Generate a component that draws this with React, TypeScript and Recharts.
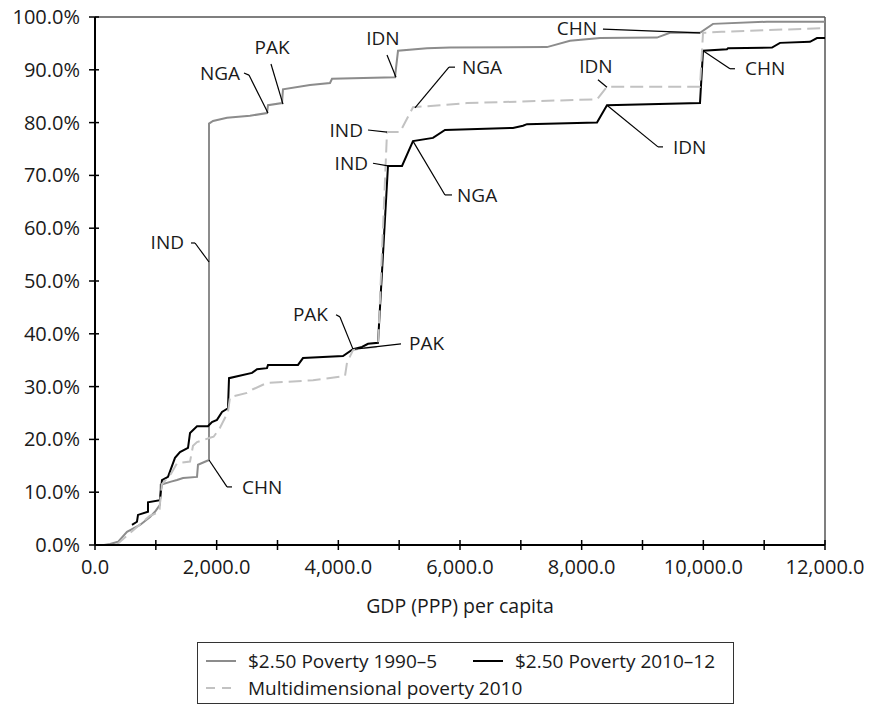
import { LineChart, Line, XAxis, YAxis, ReferenceLine, ReferenceDot } from "recharts";

// GDP (PPP) per capita vs cumulative share of poor people
const gdp1990 = [150, 247, 378, 526, 740, 904, 986, 1068, 1080, 1250, 1348, 1447, 1677, 1693, 1874, 1874, 1940, 2170, 2548, 2827, 2844, 3074, 3090, 3534, 3863, 3896, 4931, 4981, 5457, 5836, 7430, 7808, 8301, 9238, 9452, 9945, 10159, 11046, 12000];
const share1990 = [0, 0.2, 0.6, 2.5, 3.8, 5.3, 6.3, 7.6, 11.4, 12.0, 12.3, 12.7, 12.9, 15.2, 16.1, 79.8, 80.3, 80.9, 81.3, 81.8, 83.3, 83.7, 86.3, 87.1, 87.5, 88.3, 88.6, 93.6, 94.1, 94.2, 94.3, 95.5, 96.0, 96.1, 97.0, 97.0, 98.7, 99.1, 99.1];

const gdp2010 = [608, 690, 707, 871, 871, 1068, 1101, 1200, 1315, 1397, 1529, 1562, 1677, 1857, 1923, 2005, 2088, 2186, 2203, 2581, 2663, 2827, 2844, 3337, 3419, 4077, 4241, 4389, 4488, 4652, 4816, 5047, 5227, 5556, 5753, 6871, 7035, 7101, 8252, 8416, 9945, 9995, 10389, 10406, 11129, 11260, 11753, 11868, 12000];
const share2010 = [3.8, 4.4, 5.7, 6.3, 8.1, 8.5, 12.3, 12.9, 16.5, 17.6, 18.4, 21.2, 22.5, 22.5, 23.3, 23.7, 25.2, 25.9, 31.6, 32.6, 33.3, 33.5, 34.1, 34.1, 35.4, 35.8, 37.1, 37.5, 38.1, 38.3, 71.8, 71.8, 76.5, 77.1, 78.6, 79.0, 79.4, 79.7, 80.0, 83.3, 83.7, 93.6, 93.9, 94.1, 94.2, 95.1, 95.3, 96.0, 96.0];

const gdpMpi = [350, 500, 700, 900, 1060, 1068, 1100, 1250, 1348, 1562, 1611, 1677, 1890, 1950, 2055, 2186, 2219, 2499, 2597, 2827, 3584, 4110, 4142, 4241, 4405, 4652, 4800, 5014, 5227, 5671, 6115, 8252, 8416, 9945, 9995, 10300, 12000];
const shareMpi = [0, 1.5, 3.5, 5.5, 6.3, 8.0, 11.5, 13.5, 15.5, 15.8, 18.8, 19.5, 20.3, 20.5, 22.2, 25.2, 28.0, 28.8, 29.5, 30.7, 31.2, 32.0, 34.5, 36.9, 37.3, 37.5, 78.2, 78.2, 82.9, 83.3, 83.7, 84.4, 86.8, 86.8, 97.0, 97.2, 97.9];

const xTicks = [0, 1000, 2000, 3000, 4000, 5000, 6000, 7000, 8000, 9000, 10000, 11000, 12000];
const yTicks = [0, 10, 20, 30, 40, 50, 60, 70, 80, 90, 100];

// country call-outs: text position (data units) and leader line points
const calloutText = ["NGA", "PAK", "IDN", "NGA", "IND", "IND", "NGA", "CHN", "IDN", "IDN", "CHN", "IND", "CHN", "PAK", "PAK"];
const calloutX = [2384, 2910, 4734, 6033, 4405, 4488, 5951, 8252, 8235, 9501, 10685, 1463, 2416, 3830, 5162];
const calloutY = [89.4, 94.2, 95.9, 90.5, 78.6, 72.3, 66.3, 97.9, 90.6, 75.4, 90.2, 57.4, 11.0, 43.6, 38.1];
const calloutAnchor = ["end", "middle", "middle", "start", "end", "end", "start", "end", "middle", "start", "start", "end", "start", "end", "start"];
const calloutLeaders: number[][][] = [
  [[2449, 89.4], [2531, 89.0], [2844, 81.8]],
  [[2893, 91.1], [3090, 83.5]],
  [[4800, 92.8], [4948, 88.6]],
  [[5918, 90.5], [5819, 90.5], [5260, 82.8]],
  [[4488, 78.6], [4800, 78.2]],
  [[4570, 72.3], [4816, 71.8]],
  [[5868, 66.3], [5753, 66.3], [5227, 76.5]],
  [[8350, 97.7], [9945, 97.0]],
  [[8268, 88.1], [8416, 86.7]],
  [[9337, 75.4], [9255, 75.4], [8416, 83.3]],
  [[10520, 90.2], [10438, 90.2], [9995, 93.6]],
  [[1578, 57.2], [1644, 57.2], [1874, 53.6]],
  [[2252, 11.0], [2170, 11.0], [1874, 16.1]],
  [[3962, 43.6], [4027, 43.2], [4241, 37.1]],
  [[5030, 38.1], [4274, 37.1]],
];

const zip = (xs: number[], ys: number[]) => xs.map((x, i) => ({ x, y: ys[i] }));

const FONT = "'Open Sans', sans-serif";
const TEXT = "#1a1a1a";

const fmtX = (v: number) =>
  v.toLocaleString("en-US", { minimumFractionDigits: 1, maximumFractionDigits: 1 });

const XTick = ({ x, y, payload }: any) => {
  const major = payload.value % 2000 === 0;
  return (
    <g>
      <line x1={x} x2={x} y1={y - 5} y2={y + 5} stroke="#000" strokeWidth={1.5} />
      {major && (
        <text x={x} y={y + 29} textAnchor="middle" fontSize={20} fill={TEXT} fontFamily={FONT}>
          {fmtX(payload.value)}
        </text>
      )}
    </g>
  );
};

const YTick = ({ x, y, payload }: any) => (
  <g>
    <line x1={x - 6} x2={x + 4} y1={y} y2={y} stroke="#000" strokeWidth={1.5} />
    <text x={x - 15} y={y} dy="0.35em" textAnchor="end" fontSize={20} fill={TEXT} fontFamily={FONT}>
      {payload.value.toFixed(1)}%
    </text>
  </g>
);

const LegendSwatch = ({ color, dashed }: { color: string; dashed?: boolean }) => (
  <svg width={30} height={10} style={{ marginRight: 12 }}>
    <line x1={0} x2={30} y1={5} y2={5} stroke={color} strokeWidth={2} strokeDasharray={dashed ? "9 7" : undefined} />
  </svg>
);

export default function App() {
  return (
    <div style={{ position: "relative", width: 872, height: 714, margin: -8, fontFamily: FONT }}>
      <LineChart width={872} height={640} margin={{ top: 17, right: 47, left: 0, bottom: 20 }}>
        <XAxis
          type="number"
          dataKey="x"
          domain={[0, 12000]}
          ticks={xTicks}
          interval={0}
          tick={<XTick />}
          tickSize={0}
          tickMargin={0}
          tickLine={false}
          axisLine={{ stroke: "#000", strokeWidth: 2 }}
          height={75}
          label={{ value: "GDP (PPP) per capita", position: "insideBottom", offset: 7, fontSize: 19.5, fill: TEXT, fontFamily: FONT }}
        />
        <YAxis
          type="number"
          domain={[0, 100]}
          ticks={yTicks}
          interval={0}
          tick={<YTick />}
          tickSize={0}
          tickMargin={0}
          tickLine={false}
          axisLine={{ stroke: "#000", strokeWidth: 2 }}
          width={95}
        />
        <ReferenceLine y={100} stroke="#555" strokeWidth={1.5} />
        <ReferenceLine x={12000} stroke="#555" strokeWidth={1.5} />

        <Line data={zip(gdp1990, share1990)} dataKey="y" type="linear" stroke="#8c8c8c" strokeWidth={2} dot={false} isAnimationActive={false} />
        <Line data={zip(gdp2010, share2010)} dataKey="y" type="linear" stroke="#000" strokeWidth={2} dot={false} isAnimationActive={false} />
        <Line data={zip(gdpMpi, shareMpi)} dataKey="y" type="linear" stroke="#c2c2c2" strokeWidth={2} strokeDasharray="13 6" dot={false} isAnimationActive={false} />

        {calloutLeaders.map((pts, i) =>
          pts.slice(1).map((p, j) => (
            <ReferenceLine
              key={`l${i}-${j}`}
              segment={[{ x: pts[j][0], y: pts[j][1] }, { x: p[0], y: p[1] }]}
              stroke="#000"
              strokeWidth={1.2}
            />
          ))
        )}
        {calloutText.map((t, i) => (
          <ReferenceDot
            key={`t${i}`}
            x={calloutX[i]}
            y={calloutY[i]}
            r={0}
            fill="none"
            stroke="none"
            label={{
              content: ({ viewBox }: any) => (
                <text
                  x={viewBox.x}
                  y={viewBox.y}
                  dy="0.35em"
                  textAnchor={calloutAnchor[i] as any}
                  fontSize={19}
                  fill={TEXT}
                  fontFamily={FONT}
                >
                  {t}
                </text>
              ),
            }}
          />
        ))}
      </LineChart>

      <div
        style={{
          position: "absolute",
          left: 197,
          top: 642,
          width: 535,
          height: 60,
          border: "1px solid #333",
          fontSize: 19,
          lineHeight: "24px",
          color: TEXT,
        }}
      >
        <div style={{ position: "absolute", left: 8, top: 6, display: "flex", alignItems: "center", whiteSpace: "nowrap" }}>
          <LegendSwatch color="#8c8c8c" />
          $2.50 Poverty 1990–5
        </div>
        <div style={{ position: "absolute", left: 275, top: 6, display: "flex", alignItems: "center", whiteSpace: "nowrap" }}>
          <LegendSwatch color="#000" />
          $2.50 Poverty 2010–12
        </div>
        <div style={{ position: "absolute", left: 8, top: 33, display: "flex", alignItems: "center", whiteSpace: "nowrap" }}>
          <LegendSwatch color="#c2c2c2" dashed />
          Multidimensional poverty 2010
        </div>
      </div>
    </div>
  );
}
